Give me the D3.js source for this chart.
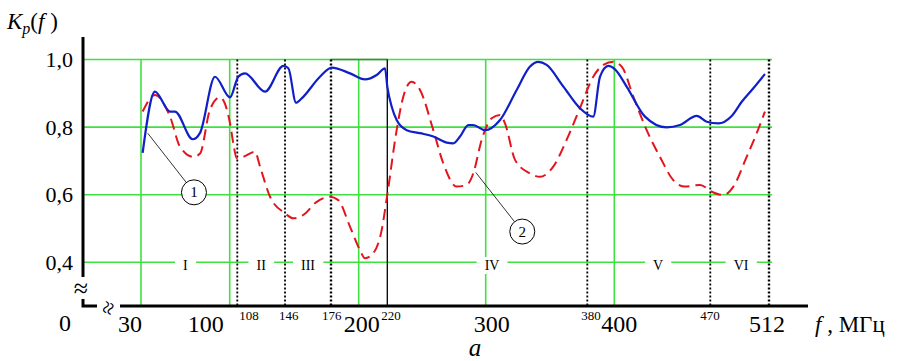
<!DOCTYPE html>
<html>
<head>
<meta charset="utf-8">
<script src="https://cdn.jsdelivr.net/npm/d3@7"></script>
<style>
  body { margin: 0; background: #fff; }
  svg { display: block; }
</style>
</head>
<body>
<div id="chart"></div>
<script>
// curve 1 (solid blue) and curve 2 (dashed red), f in MHz
const freqBlue = [31.3, 41.0, 52.9, 56.8, 70.8, 76.6, 88.4, 100.3, 108.8, 114.1, 130.1, 144.7, 148.2, 153.2, 156.9, 168.8,
    176.6, 192.5, 204.4, 212.6, 218.4, 220.0, 223.6, 227.6, 235.8, 246.6, 257.4, 268.3, 273.7, 279.1, 285.9, 289.9,
    299.4, 311.3, 324.4, 334.9, 341.4, 348.0, 361.1, 374.2, 384.4, 389.4, 395.6, 400.5, 409.0, 422.4, 438.2, 447.9,
    460.1, 467.4, 475.7, 485.3, 492.5, 500.8, 509.1];
const kBlue = [0.724, 0.905, 0.846, 0.846, 0.764, 0.783, 0.949, 0.888, 0.949, 0.959, 0.905, 0.981, 0.974, 0.872, 0.885, 0.949,
    0.976, 0.959, 0.941, 0.954, 0.974, 0.920, 0.860, 0.821, 0.791, 0.782, 0.772, 0.754, 0.752, 0.772, 0.806, 0.806,
    0.791, 0.821, 0.910, 0.979, 0.993, 0.984, 0.920, 0.856, 0.831, 0.949, 0.981, 0.971, 0.920, 0.831, 0.799, 0.806,
    0.833, 0.816, 0.811, 0.833, 0.875, 0.915, 0.957];

const freqRed = [31.3, 41.0, 52.9, 60.8, 71.3, 76.6, 84.4, 92.3, 100.3, 103.8, 107.4, 112.8, 122.1, 126.1, 134.1, 146.0,
    151.4, 157.9, 166.7, 175.3, 182.3, 192.5, 200.9, 204.4, 210.2, 216.1, 220.0, 227.6, 233.0, 239.8, 246.6, 257.4,
    265.5, 276.4, 284.6, 289.9, 296.7, 304.7, 311.3, 315.2, 323.1, 334.9, 342.7, 353.2, 363.7, 374.2, 384.4, 391.9,
    399.3, 405.4, 413.9, 423.6, 433.3, 443.0, 451.5, 462.5, 471.0, 479.3, 486.5, 496.0, 503.2, 509.1];
const kRed = [0.846, 0.895, 0.831, 0.742, 0.712, 0.722, 0.851, 0.888, 0.812, 0.752, 0.708, 0.712, 0.727, 0.683, 0.594, 0.545,
    0.530, 0.540, 0.579, 0.594, 0.584, 0.505, 0.436, 0.412, 0.427, 0.496, 0.600, 0.791, 0.890, 0.934, 0.910, 0.791,
    0.693, 0.624, 0.629, 0.663, 0.762, 0.826, 0.836, 0.811, 0.703, 0.663, 0.653, 0.683, 0.762, 0.856, 0.949, 0.984,
    0.993, 0.979, 0.890, 0.791, 0.712, 0.643, 0.624, 0.629, 0.609, 0.599, 0.624, 0.712, 0.782, 0.846];

const yTicks = [0.4, 0.6, 0.8, 1.0];
const majorTicks = [30, 100, 200, 300, 400, 512];
const bandEdges = [108, 146, 176, 220, 380, 470, 512];
const bandNames = ["I", "II", "III", "IV", "V", "VI"];
const bandCenters = [65, 127, 161, 305, 432, 492];

const calloutIds = ["1", "2"];
const calloutAnchorF = [35.3, 291.9];
const calloutAnchorK = [0.782, 0.666];
const calloutF = [71.8, 328.8];
const calloutK = [0.607, 0.491];

const width = 897, height = 361;
const originX = 83, axisY = 306;
const serif = "'Liberation Serif', 'Times New Roman', Tinos, 'DejaVu Serif', serif";

const svg = d3.select("#chart").append("svg")
    .attr("width", width)
    .attr("height", height)
    .attr("font-family", serif);

// the frequency axis is hand drawn, so it is not quite linear
const xStops = [30, 100, 108, 146, 176, 200, 220, 300, 380, 400, 470, 512];
const xPix = [141, 229.7, 237.3, 285, 331, 358.7, 387.3, 485.7, 587.3, 614.3, 710.3, 769];
const x = d3.scaleLinear().domain(xStops).range(xPix);
const y = d3.scaleLinear().domain([0.4, 1.0]).range([262.3, 59.5]);

const green = "#3fe03f";

// horizontal grid
svg.append("g").selectAll("line")
    .data(yTicks)
    .enter().append("line")
    .attr("x1", originX)
    .attr("x2", x(512) + 3)
    .attr("y1", d => y(d))
    .attr("y2", d => y(d))
    .attr("stroke", green)
    .attr("stroke-width", 1.6);

// vertical grid
svg.append("g").selectAll("line")
    .data(majorTicks.slice(0, -1))
    .enter().append("line")
    .attr("x1", d => x(d))
    .attr("x2", d => x(d))
    .attr("y1", y(1.0))
    .attr("y2", axisY)
    .attr("stroke", green)
    .attr("stroke-width", 1.6);

svg.append("line")
    .attr("x1", x(176)).attr("x2", x(220))
    .attr("y1", y(1.0)).attr("y2", y(1.0))
    .attr("stroke", "#4d7f4d")
    .attr("stroke-width", 1.6);

// band labels on the 0,4 line
const bands = svg.append("g").selectAll("g")
    .data(bandNames)
    .enter().append("g");
bands.append("text")
    .attr("x", (d, i) => x(bandCenters[i]))
    .attr("y", 270)
    .attr("text-anchor", "middle")
    .style("font-family", serif)
    .style("font-size", "14px")
    .text(d => d);
bands.each(function () {
    const t = d3.select(this).select("text");
    const b = t.node().getBBox();
    d3.select(this).insert("rect", "text")
        .attr("x", b.x - 8)
        .attr("y", b.y - 1)
        .attr("width", b.width + 16)
        .attr("height", b.height + 2)
        .attr("fill", "#fff");
});

// band boundaries
svg.append("g").selectAll("line")
    .data(bandEdges)
    .enter().append("line")
    .attr("x1", d => x(d))
    .attr("x2", d => x(d))
    .attr("y1", y(1.0))
    .attr("y2", axisY)
    .attr("stroke", "#000")
    .attr("stroke-width", d => d === 176 || d === 512 ? 2.4 : (d === 220 ? 1.3 : 1.8))
    .attr("stroke-dasharray", d => d === 220 ? null : "2,2");

// curves
const line = d3.line()
    .x(d => x(d[0]))
    .y(d => y(d[1]))
    .curve(d3.curveMonotoneX);

svg.append("path")
    .datum(d3.zip(freqRed, kRed))
    .attr("d", line)
    .attr("fill", "none")
    .attr("stroke", "#e4141c")
    .attr("stroke-width", 2)
    .attr("stroke-dasharray", "11,6");

svg.append("path")
    .datum(d3.zip(freqBlue, kBlue))
    .attr("d", line)
    .attr("fill", "none")
    .attr("stroke", "#1020c8")
    .attr("stroke-width", 2.2);

// callouts
const r = 12.5;
calloutIds.forEach(function (id, i) {
    const ax = x(calloutAnchorF[i]), ay = y(calloutAnchorK[i]);
    const cx = x(calloutF[i]), cy = y(calloutK[i]);
    const len = Math.hypot(cx - ax, cy - ay);
    svg.append("line")
        .attr("x1", ax).attr("y1", ay)
        .attr("x2", cx - (cx - ax) * r / len)
        .attr("y2", cy - (cy - ay) * r / len)
        .attr("stroke", "#000")
        .attr("stroke-width", 0.8);
    svg.append("circle")
        .attr("cx", cx).attr("cy", cy).attr("r", r)
        .attr("fill", "#fff")
        .attr("stroke", "#000")
        .attr("stroke-width", 1);
    svg.append("text")
        .attr("x", cx).attr("y", cy + 5)
        .attr("text-anchor", "middle")
        .style("font-size", "15px")
        .text(id);
});

// axes
const yAxis = d3.axisLeft(y)
    .tickValues(yTicks)
    .tickSize(0)
    .tickPadding(10)
    .tickFormat(d => d3.format(".1f")(d).replace(".", ","));
const gy = svg.append("g")
    .attr("transform", "translate(" + originX + ",0)")
    .call(yAxis);
gy.select(".domain").remove();
gy.selectAll("text")
    .style("font-size", "22px");

svg.append("line")
    .attr("x1", originX).attr("x2", originX)
    .attr("y1", 37).attr("y2", 277)
    .attr("stroke", "#000").attr("stroke-width", 3);
svg.append("path")
    .attr("d", "M" + originX + ",299V" + axisY + "H97")
    .attr("fill", "none")
    .attr("stroke", "#000").attr("stroke-width", 3);
svg.append("line")
    .attr("x1", 120).attr("x2", 808)
    .attr("y1", axisY).attr("y2", axisY)
    .attr("stroke", "#000").attr("stroke-width", 3);

svg.append("text")
    .attr("x", 81).attr("y", 297)
    .attr("text-anchor", "middle")
    .style("font-size", "26px")
    .text("≈");
svg.append("text")
    .attr("transform", "translate(109,308) rotate(-70)")
    .attr("text-anchor", "middle")
    .attr("dy", "0.3em")
    .style("font-size", "24px")
    .text("≈");

// x labels
const majorDx = [-11, -24, 3, 6, 5, -2];
svg.append("text")
    .attr("x", 65).attr("y", 331)
    .attr("text-anchor", "middle")
    .style("font-size", "24px")
    .text("0");
svg.append("g").selectAll("text")
    .data(majorTicks)
    .enter().append("text")
    .attr("x", (d, i) => x(d) + majorDx[i])
    .attr("y", 332)
    .attr("text-anchor", "middle")
    .style("font-size", "24px")
    .text(d => d);

const edgeDx = [2, -6, -9, -6, -6, -10];
svg.append("g").selectAll("text")
    .data(bandEdges.slice(0, -1))
    .enter().append("text")
    .attr("x", (d, i) => x(d) + edgeDx[i])
    .attr("y", 320)
    .style("font-size", "13px")
    .text(d => d);

const unit = svg.append("text")
    .attr("x", 815).attr("y", 332)
    .style("font-size", "23px");
unit.append("tspan").style("font-style", "italic").text("f");
unit.append("tspan").text(" , МГц");

svg.append("text")
    .attr("x", 475).attr("y", 355.5)
    .attr("text-anchor", "middle")
    .style("font-size", "25px")
    .style("font-style", "italic")
    .text("a");

const yl = svg.append("text")
    .attr("x", 7).attr("y", 29)
    .style("font-size", "23px");
yl.append("tspan").style("font-style", "italic").text("K");
yl.append("tspan").style("font-style", "italic").style("font-size", "16px").attr("dy", 5).text("p");
yl.append("tspan").attr("dy", -5).text("(");
yl.append("tspan").style("font-style", "italic").text("f");
yl.append("tspan").text(" )");

// every text in the serif face, also the axis ticks d3 styled as sans-serif
svg.selectAll("text").style("font-family", serif).attr("fill", "#000");
</script>
</body>
</html>
